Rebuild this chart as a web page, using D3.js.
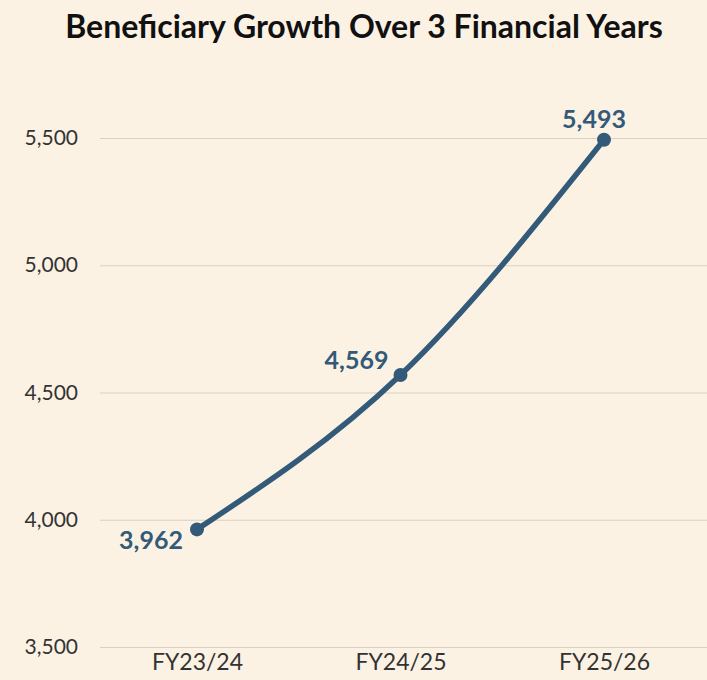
<!DOCTYPE html>
<meta charset="utf-8">
<style>
body { margin: 0; background: #fcf2e4; }
text { font-family: Lato, "Open Sans", sans-serif; }
</style>
<body>
<script src="https://cdn.jsdelivr.net/npm/d3@7"></script>
<script>

var years = ["FY23/24", "FY24/25", "FY25/26"];
var beneficiaries = [3962, 4569, 5493];
var yTicks = [3500, 4000, 4500, 5000, 5500];

var width = 707, height = 680;

var x = d3.scalePoint().domain(years).range([197, 604]);
var y = d3.scaleLinear().domain([3500, 5500]).range([647, 138]);

var svg = d3.select("body").append("svg")
    .attr("width", width)
    .attr("height", height);

svg.append("rect").attr("width", width).attr("height", height).attr("fill", "#fcf2e4");

svg.append("text")
    .attr("x", 364).attr("y", 38)
    .attr("text-anchor", "middle")
    .attr("font-size", "32px").attr("font-weight", "bold")
    .attr("fill", "#111")
    .text("Beneficiary Growth Over 3 Financial Years");

// grid lines + y labels
var yAxis = svg.append("g")
    .attr("transform", "translate(100,0)")
    .call(d3.axisLeft(y).tickValues(yTicks).tickSize(-607).tickPadding(22).tickFormat(d3.format(",")));
yAxis.select(".domain").remove();
yAxis.selectAll("line").attr("stroke", "#d9d0c3").attr("stroke-width", 1);
yAxis.selectAll("text").attr("font-size", "21px").attr("fill", "#333");

var xAxis = svg.append("g")
    .attr("transform", "translate(0,647)")
    .call(d3.axisBottom(x).tickSize(0).tickPadding(7));
xAxis.select(".domain").remove();
xAxis.selectAll("text").attr("font-size", "23px").attr("fill", "#333");

var data = years.map(function(d, i) { return {year: d, value: beneficiaries[i]}; });

var line = d3.line()
    .x(function(d) { return x(d.year); })
    .y(function(d) { return y(d.value); })
    .curve(d3.curveMonotoneX);

svg.append("path")
    .datum(data)
    .attr("d", line)
    .attr("fill", "none")
    .attr("stroke", "#335a78")
    .attr("stroke-width", 5.5)
    .attr("stroke-linecap", "round");

svg.selectAll("circle.pt")
    .data(data)
  .enter().append("circle")
    .attr("cx", function(d) { return x(d.year); })
    .attr("cy", function(d) { return y(d.value); })
    .attr("r", 7)
    .attr("fill", "#335a78");

var offsets = [[-46, 20], [-44, -6], [-10, -12]];
svg.selectAll("text.lbl")
    .data(data)
  .enter().append("text")
    .attr("x", function(d, i) { return x(d.year) + offsets[i][0]; })
    .attr("y", function(d, i) { return y(d.value) + offsets[i][1]; })
    .attr("text-anchor", "middle")
    .attr("font-size", "25px").attr("font-weight", "bold")
    .attr("fill", "#335a78")
    .text(function(d) { return d3.format(",")(d.value); });

</script>
</body>
